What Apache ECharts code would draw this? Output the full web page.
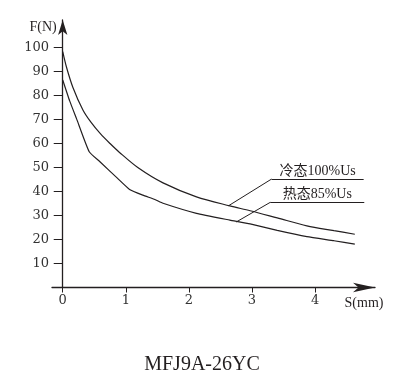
<!DOCTYPE html>
<html>
<head>
<meta charset="utf-8">
<script src="https://cdn.jsdelivr.net/npm/echarts@6/dist/echarts.min.js"></script>
<style>html,body{margin:0;padding:0;background:#fff;}#c{width:404px;height:389px;}</style>
</head>
<body>
<div id="c"></div>
<script>
// Data
const xTicks = [0, 1, 2, 3, 4];
const yTicks = [10, 20, 30, 40, 50, 60, 70, 80, 90, 100];
const coldS = [0, 0.06, 0.16, 0.32, 0.45, 0.6, 0.75, 0.9, 1.19, 1.59, 2.12, 2.65, 2.97, 3.4, 3.87, 4.3, 4.63];
const coldF = [98.3, 91.8, 83.5, 74, 68.8, 64, 60, 56.3, 50, 43.6, 37.8, 34.0, 32.0, 29.0, 25.7, 23.7, 22.2];
const hotS = [0, 0.11, 0.22, 0.42, 0.59, 0.87, 1.06, 1.27, 1.46, 1.59, 2.12, 2.65, 2.97, 3.4, 3.87, 4.3, 4.63];
const hotF = [86.5, 77.8, 70.3, 56.6, 52.4, 45.5, 40.9, 38.5, 36.7, 35.1, 30.9, 28.1, 26.5, 23.8, 21.2, 19.5, 18.1];
const coldName = '冷态100%Us';
const hotName = '热态85%Us';
const titleText = 'MFJ9A-26YC';
// leader line anchor points (data coords)
const coldLeader = [[2.63, 34.1], [3.31, 45.2], [4.77, 45.2]];
const hotLeader = [[2.75, 27.3], [3.29, 35.5], [4.78, 35.5]];

const serif = '"Liberation Serif", "Times New Roman", "Noto Sans CJK SC", serif';
const ink = '#231f20';

function pairs(xs, ys) { return xs.map((x, i) => [x, ys[i]]); }
function leader(pts, text) {
  const lbl = {show: true, formatter: text, position: 'insideMiddleTop', distance: 1,
    fontFamily: serif, fontSize: 14, color: ink};
  return [
    [{coord: pts[0], label: {show: false}}, {coord: pts[1], label: {show: false}}],
    [{coord: pts[1], label: lbl}, {coord: pts[2], label: lbl}]
  ];
}

const chart = echarts.init(document.getElementById('c'), null, {renderer: 'canvas'});
chart.setOption({
  animation: false,
  backgroundColor: '#fff',
  title: {
    text: titleText, left: 'center', top: 350,
    textStyle: {fontFamily: serif, fontSize: 20, fontWeight: 'normal', color: ink}
  },
  grid: {left: 52, right: 29, top: 20, bottom: 101.5, containLabel: false},
  xAxis: {
    type: 'value', min: -0.17, max: 4.95,
    name: 'S(mm)', nameLocation: 'end', nameGap: -11,
    nameTextStyle: {fontFamily: serif, fontSize: 14, color: ink, align: 'center', verticalAlign: 'top', padding: [9, 0, 0, 0]},
    axisLine: {onZero: true, lineStyle: {color: ink, width: 1.3}, symbol: ['none', 'arrow'], symbolSize: [7, 22]},
    axisTick: {show: true, length: 5, customValues: xTicks, lineStyle: {color: ink, width: 1}},
    axisLabel: {customValues: xTicks, margin: 7, fontFamily: '"DejaVu Serif", serif', fontSize: 13, color: '#333'},
    splitLine: {show: false}
  },
  yAxis: {
    type: 'value', min: 0, max: 111.5,
    name: 'F(N)', nameLocation: 'end', nameGap: 0,
    nameTextStyle: {fontFamily: serif, fontSize: 14, color: ink, align: 'right', verticalAlign: 'top', padding: [0, 6, 0, 0]},
    axisLine: {onZero: true, lineStyle: {color: ink, width: 1.3}, symbol: ['none', 'arrow'], symbolSize: [7, 15]},
    axisTick: {show: true, length: 9, customValues: yTicks, lineStyle: {color: ink, width: 1}},
    axisLabel: {customValues: yTicks, margin: 3, fontFamily: '"DejaVu Serif", serif', fontSize: 13, color: '#333'},
    splitLine: {show: false}
  },
  series: [
    {
      name: coldName, type: 'line', data: pairs(coldS, coldF), smooth: 0.3, symbol: 'none',
      lineStyle: {color: ink, width: 1.2}, z: 3,
      markLine: {silent: true, symbol: ['none', 'none'], animation: false,
        lineStyle: {color: ink, width: 1, type: 'solid'}, label: {show: false},
        data: leader(coldLeader, coldName)}
    },
    {
      name: hotName, type: 'line', data: pairs(hotS, hotF), smooth: 0.15, symbol: 'none',
      lineStyle: {color: ink, width: 1.2}, z: 3,
      markLine: {silent: true, symbol: ['none', 'none'], animation: false,
        lineStyle: {color: ink, width: 1, type: 'solid'}, label: {show: false},
        data: leader(hotLeader, hotName)}
    }
  ]
});
</script>
</body>
</html>
